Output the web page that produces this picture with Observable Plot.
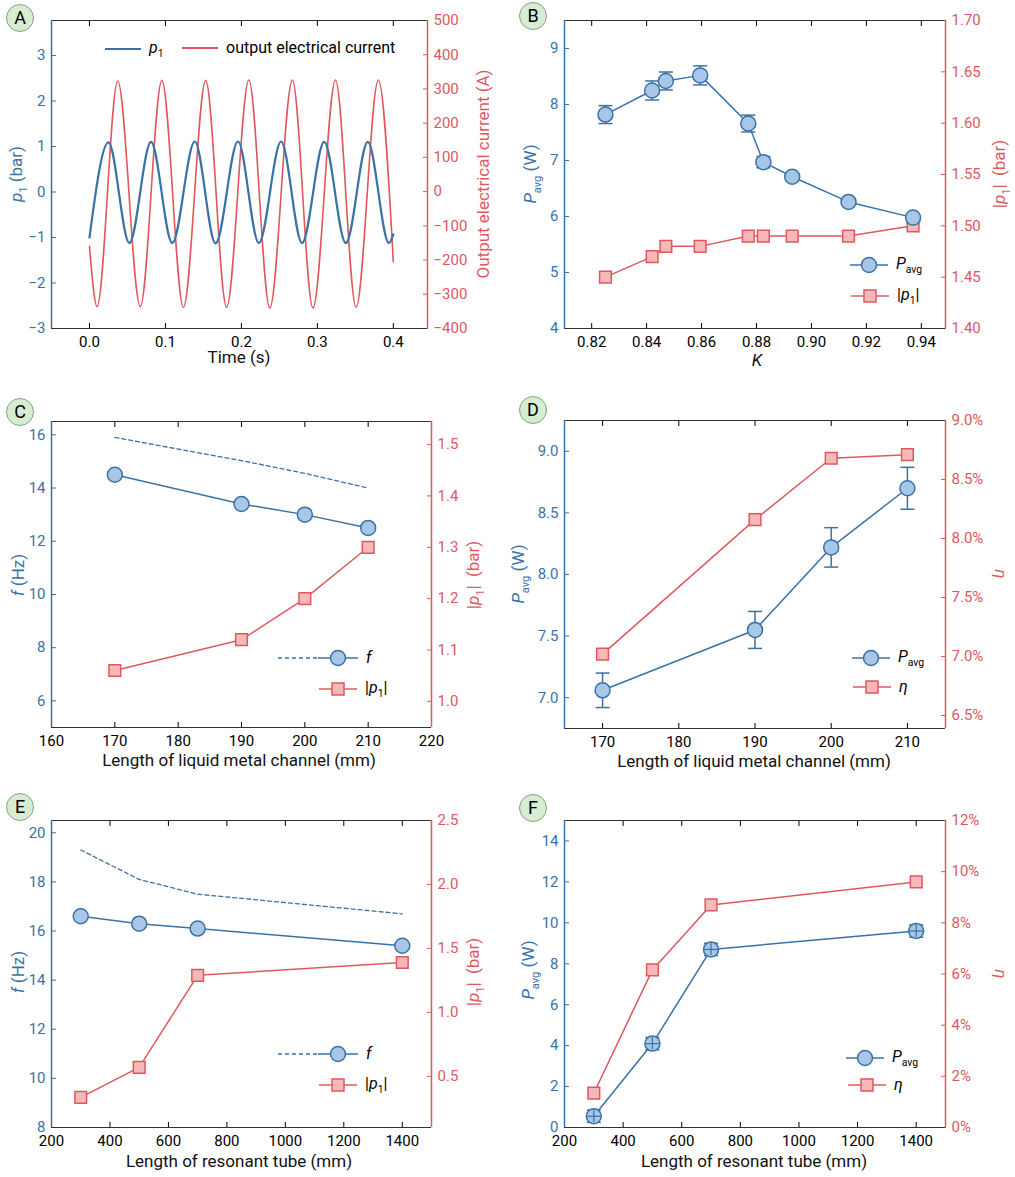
<!DOCTYPE html>
<html><head><meta charset="utf-8">
<script src="https://cdn.jsdelivr.net/npm/d3@7"></script>
<script src="https://cdn.jsdelivr.net/npm/@observablehq/plot@0.6"></script>
<style>
body{margin:0;background:#fff;font-family:Roboto,"Noto Sans",sans-serif;}
#wrap{position:relative;width:1015px;height:1177px;}
#wrap svg{position:absolute;}
.lab{position:absolute;font-size:17px;white-space:nowrap;transform:translate(-50%,-50%);}
.rot{transform:translate(-50%,-50%) rotate(-90deg);}
.rotr{transform:translate(-50%,-50%) rotate(90deg);}
.leg{position:absolute;font-size:16px;display:flex;align-items:center;white-space:nowrap;}
.leg svg{position:static!important;margin-right:8px;}
.badge{position:absolute;width:26px;height:26px;border-radius:50%;background:#d7ecd3;border:1px solid #7fa67a;font-size:18px;text-align:center;line-height:26px;transform:translate(-50%,-50%);}
sub{font-size:0.65em;}
</style></head><body><div id="wrap"></div>
<script>
const BLUE="#3a72a8", RED="#e0585e", BFILL="#a8c6e6", RFILL="#f6b8b8";

// Panel A
const aP1Time=[0,0.025,0.0525,0.081,0.109,0.1386,0.166,0.1955,0.223,0.2523,0.2798,0.309,0.3375,0.3664,0.3943,0.4];
const aP1Val=[-1.0,1.09,-1.12,1.10,-1.12,1.11,-1.13,1.11,-1.12,1.11,-1.12,1.10,-1.12,1.10,-1.12,-0.93];
const aCurTime=[0,0.010,0.0372,0.0669,0.0953,0.1237,0.153,0.1805,0.2098,0.2374,0.2671,0.2942,0.3239,0.351,0.3803,0.4];
const aCurVal=[-160,-336,323,-336,325,-338,325,-338,326,-340,326,-340,326,-338,326,-205];
// Panel B
const bK=[0.825,0.842,0.847,0.8595,0.877,0.8825,0.893,0.9135,0.937];
const bPavg=[7.82,8.25,8.42,8.52,7.66,6.97,6.71,6.26,5.98];
const bPerr=[0.16,0.17,0.16,0.17,0.15,0.10,0.06,0.06,0.04];
const bP1=[1.45,1.47,1.48,1.48,1.49,1.49,1.49,1.49,1.50];
// Panel C
const cLen=[170,190,200,210];
const cF=[14.5,13.4,13.0,12.5];
const cFdash=[15.9,15.03,14.55,14.0];
const cP1=[1.06,1.12,1.20,1.30];
// Panel D
const dLen=[170,190,200,210];
const dPavg=[7.06,7.55,8.22,8.70];
const dPerr=[0.14,0.15,0.16,0.17];
const dEta=[7.02,8.16,8.68,8.71];
// Panel E
const eLen=[300,500,700,1400];
const eF=[16.6,16.3,16.1,15.4];
const eFdash=[19.3,18.1,17.5,16.7];
const eP1=[0.335,0.57,1.29,1.39];
// Panel F
const fLen=[300,500,700,1400];
const fPavg=[0.55,4.1,8.7,9.6];
const fPerr=[0.3,0.3,0.3,0.3];
const fEta=[1.34,6.16,8.7,9.6];

const wrap=document.getElementById("wrap");
const cap=w=>({draw(ctx){ctx.moveTo(-w,0);ctx.lineTo(w,0);}});
const zip=(xs,ys,es)=>xs.map((x,i)=>({x,y:ys[i],e:es?es[i]:0}));
const range=(a,b,s)=>d3.range(0,Math.round((b-a)/s)+1).map(i=>+(a+i*s).toFixed(6));

function panel(c){
  const ymap=d3.scaleLinear().domain(c.yR).range(c.yL);
  const marks=[
    Plot.axisX(c.xTicks,{anchor:"bottom",tickSize:-5,tickPadding:13,tickFormat:c.fx,color:"black",label:null}),
    Plot.axisX(c.xTicks,{anchor:"top",tickSize:-5,tickFormat:()=>"",color:"black",label:null}),
    Plot.axisY(c.lTicks,{anchor:"left",tickSize:-5,tickPadding:11,tickFormat:c.fl,color:BLUE,label:null}),
    Plot.axisY(c.rTicks.map(ymap),{anchor:"right",tickSize:-5,tickPadding:11,tickFormat:d=>c.fr(ymap.invert(d)),color:RED,label:null}),
    Plot.ruleY([c.yL[0]],{stroke:"#333"}),
    Plot.ruleY([c.yL[1]],{stroke:"#333"}),
    Plot.ruleX([c.x[0]],{stroke:BLUE,strokeWidth:1.5}),
    Plot.ruleX([c.x[1]],{stroke:RED,strokeWidth:1.5}),
    ...c.marks(ymap)
  ];
  const svg=Plot.plot({width:c.w,height:c.h,marginTop:c.m[0],marginRight:c.m[1],marginBottom:c.m[2],marginLeft:c.m[3],
    x:{domain:c.x,axis:null},y:{domain:c.yL,axis:null},
    style:{fontSize:"15px",fontFamily:"Roboto, sans-serif",background:"transparent",overflow:"visible"},marks});
  svg.style.left=c.left+"px";svg.style.top=c.top+"px";
  wrap.appendChild(svg);
}
function blueSeries(data,withErr,rr=7.5){
  const m=[Plot.line(data,{x:"x",y:"y",stroke:BLUE,strokeWidth:1.5})];
  if(withErr){
    m.push(Plot.ruleX(data,{x:"x",y1:d=>d.y-d.e,y2:d=>d.y+d.e,stroke:BLUE,strokeWidth:1.5}));
    m.push(Plot.dot(data,{x:"x",y:d=>d.y-d.e,symbol:cap(7),stroke:BLUE,strokeWidth:1.5}));
    m.push(Plot.dot(data,{x:"x",y:d=>d.y+d.e,symbol:cap(7),stroke:BLUE,strokeWidth:1.5}));
  }
  m.push(Plot.dot(data,{x:"x",y:"y",r:rr,fill:BFILL,stroke:BLUE,strokeWidth:1.5}));
  if(withErr==="cross"){
    m.push(Plot.ruleX(data,{x:"x",y1:d=>d.y-d.e,y2:d=>d.y+d.e,stroke:BLUE,strokeWidth:1.2}));
    m.push(Plot.dot(data,{x:"x",y:"y",symbol:cap(7),stroke:BLUE,strokeWidth:1.2}));
  }
  return m;
}
function redSeries(xs,vs,ymap){
  const data=xs.map((x,i)=>({x,y:ymap(vs[i])}));
  return [Plot.line(data,{x:"x",y:"y",stroke:RED,strokeWidth:1.5}),
          Plot.dot(data,{x:"x",y:"y",symbol:"square",r:6.6,fill:RFILL,stroke:RED,strokeWidth:1.5})];
}
const f0=d=>String(Math.round(d)).replace("-","\u2212");
const fk=k=>d=>(Math.round(d*10**k)/10**k).toFixed(k).replace("-","\u2212");

// A
panel({left:0,top:0,w:500,h:380,m:[20,73,52,51],x:[-0.05,0.445],yL:[-3,3.77],yR:[-400,500],
  xTicks:range(0,0.4,0.1),lTicks:range(-3,3,1),rTicks:range(-400,500,100),fx:fk(1),fl:f0,fr:f0,
  marks:ym=>[
    Plot.line(aCurTime.map((t,i)=>({t,v:ym(aCurVal[i])})),{x:"t",y:"v",curve:"monotone-x",stroke:RED,strokeWidth:1.6}),
    Plot.line(aP1Time.map((t,i)=>({t,v:aP1Val[i]})),{x:"t",y:"v",curve:"monotone-x",stroke:BLUE,strokeWidth:2.2})
  ]});
// B
panel({left:500,top:0,w:515,h:380,m:[20,70,52,64],x:[0.8101,0.9488],yL:[4,9.5],yR:[1.40,1.70],
  xTicks:range(0.82,0.94,0.02),lTicks:range(4,9,1),rTicks:range(1.40,1.70,0.05),fx:fk(2),fl:f0,fr:fk(2),
  marks:ym=>[...redSeries(bK,bP1,ym),...blueSeries(zip(bK,bPavg,bPerr),true)]});
// C
panel({left:0,top:400,w:500,h:380,m:[21,69,53,51],x:[160,220],yL:[5,16.5],yR:[0.949,1.545],
  xTicks:range(160,220,10),lTicks:range(6,16,2),rTicks:range(1.0,1.5,0.1),fx:f0,fl:f0,fr:fk(1),
  marks:ym=>[Plot.line(zip(cLen,cFdash),{x:"x",y:"y",stroke:BLUE,strokeWidth:1.3,strokeDasharray:"4,3"}),
    ...redSeries(cLen,cP1,ym),...blueSeries(zip(cLen,cF),false)]});
// D
panel({left:500,top:400,w:515,h:380,m:[20,70,52,64],x:[165,215],yL:[6.75,9.25],yR:[6.39,9.0],
  xTicks:range(170,210,10),lTicks:range(7,9,0.5),rTicks:range(6.5,9.0,0.5),fx:f0,fl:fk(1),fr:d=>fk(1)(d)+"%",
  marks:ym=>[...redSeries(dLen,dEta,ym),...blueSeries(zip(dLen,dPavg,dPerr),true)]});
// E
panel({left:0,top:790,w:500,h:387,m:[30,69,50,51],x:[200,1500],yL:[8,20.5],yR:[0.1,2.5],
  xTicks:range(200,1400,200),lTicks:range(8,20,2),rTicks:range(0.5,2.5,0.5),fx:f0,fl:f0,fr:fk(1),
  marks:ym=>[Plot.line(zip(eLen,eFdash),{x:"x",y:"y",stroke:BLUE,strokeWidth:1.3,strokeDasharray:"4,3"}),
    ...redSeries(eLen,eP1,ym),...blueSeries(zip(eLen,eF),false)]});
// F
panel({left:500,top:790,w:515,h:387,m:[30,70,50,64],x:[200,1500],yL:[0,15],yR:[0,12],
  xTicks:range(200,1400,200),lTicks:range(0,14,2),rTicks:range(0,12,2),fx:f0,fl:f0,fr:d=>f0(d)+"%",
  marks:ym=>[...redSeries(fLen,fEta,ym),...blueSeries(zip(fLen,fPavg,fPerr),"cross")]});

// overlays
function add(html,cls,x,y,color){const d=document.createElement("div");d.className=cls;d.innerHTML=html;
  d.style.left=x+"px";d.style.top=y+"px";if(color)d.style.color=color;wrap.appendChild(d);}
const P1='<i>p</i><sub>1</sub>';
const PAVG='<i>P</i><sub>avg</sub>';
add(P1+" (bar)","lab rot",18,174,BLUE);
add("Output electrical current (A)","lab rot",483,174,RED);
add("Time (s)","lab",239,357,"#111");
add(PAVG+" (W)","lab rot",532,174,BLUE);
add("|"+P1+"| &nbsp;(bar)","lab rot",1001,174,RED);
add("<i>K</i>","lab",757,360,"#111");
add("<i>f</i> (Hz)","lab rot",18,575,BLUE);
add("|"+P1+"| &nbsp;(bar)","lab rot",475,575,RED);
add("Length of liquid metal channel (mm)","lab",239,760,"#111");
add(PAVG+" (W)","lab rot",520,574,BLUE);
add("<i>η</i>","lab rotr",1001,574,RED);
add("Length of liquid metal channel (mm)","lab",754,761,"#111");
add("<i>f</i> (Hz)","lab rot",18,972,BLUE);
add("|"+P1+"| &nbsp;(bar)","lab rot",475,972,RED);
add("Length of resonant tube (mm)","lab",239,1161,"#111");
add(PAVG+" (W)","lab rot",530,970,BLUE);
add("<i>η</i>","lab rotr",1001,974,RED);
add("Length of resonant tube (mm)","lab",754,1161,"#111");
[["A",20,18],["B",533,16],["C",20,412],["D",533,410],["E",20,807],["F",533,808]].forEach(([t,x,y])=>add(t,"badge",x,y));
const symLine=(col,w=36)=>`<svg width="${w}" height="14"><line x1="0" x2="${w}" y1="7" y2="7" stroke="${col}" stroke-width="2"/></svg>`;
const symCirc=(dash)=>`<svg width="${dash?80:38}" height="18">${dash?'<line x1="0" x2="40" y1="9" y2="9" stroke="'+BLUE+'" stroke-width="1.3" stroke-dasharray="4,3"/>':''}<line x1="${dash?40:0}" x2="${dash?80:38}" y1="9" y2="9" stroke="${BLUE}" stroke-width="1.5"/><circle cx="${dash?60:19}" cy="9" r="7.5" fill="${BFILL}" stroke="${BLUE}" stroke-width="1.5"/></svg>`;
const symSq=`<svg width="38" height="18"><line x1="0" x2="38" y1="9" y2="9" stroke="${RED}" stroke-width="1.5"/><rect x="13" y="3" width="12" height="12" fill="${RFILL}" stroke="${RED}" stroke-width="1.5"/></svg>`;
function leg(html,x,y){const d=document.createElement("div");d.className="leg";d.innerHTML=html;d.style.left=x+"px";d.style.top=(y-10)+"px";wrap.appendChild(d);}
leg(symLine(BLUE)+'<span>'+P1+'</span>',105,48);
leg(symLine(RED)+'<span>output electrical current</span>',182,48);
leg(symCirc(false)+'<span>'+PAVG+'</span>',850,264);
leg(symSq+'<span>|'+P1+'|</span>',851,295);
leg(symCirc(true)+'<span><i>f</i></span>',278,658);
leg(symSq+'<span>|'+P1+'|</span>',319,688);
leg(symCirc(false)+'<span>'+PAVG+'</span>',852,657);
leg(symSq+'<span><i>η</i></span>',853,687);
leg(symCirc(true)+'<span><i>f</i></span>',278,1054);
leg(symSq+'<span>|'+P1+'|</span>',319,1084);
leg(symCirc(false)+'<span>'+PAVG+'</span>',846,1057);
leg(symSq+'<span><i>η</i></span>',848,1085);
</script></body></html>
